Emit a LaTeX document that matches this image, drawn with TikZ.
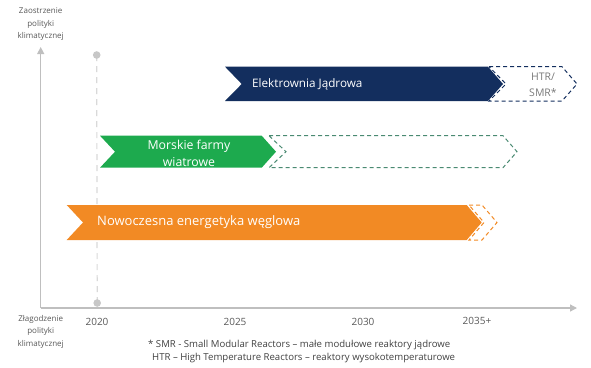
\documentclass[tikz,border=0pt]{standalone}
\usepackage{fontspec}
\setmainfont{Open Sans}
\usetikzlibrary{arrows.meta}
\definecolor{navy}{HTML}{132E5E}
\definecolor{grn}{HTML}{1DAA4E}
\definecolor{grndash}{HTML}{4A8A72}
\definecolor{org}{HTML}{F28A24}
\definecolor{axisgray}{HTML}{BFBFBF}
\definecolor{dashgray}{HTML}{D9D9D9}
\definecolor{txtgray}{HTML}{595959}
\definecolor{notegray}{HTML}{404040}
\tikzset{
  axisline/.style={draw=axisgray, line width=1.3pt, -{Triangle[length=7pt,width=7pt]}},
  bandtext/.style={text=white, font=\fontsize{11.7}{13}\selectfont, align=center, inner sep=0pt},
  axlabel/.style={text=txtgray, font=\fontsize{8}{12.5}\selectfont, align=center, inner sep=0pt},
  yearlabel/.style={text=txtgray, font=\fontsize{10}{11}\selectfont, inner sep=0pt},
  notelabel/.style={text=notegray, font=\fontsize{9.6}{10}\selectfont, inner sep=0pt, anchor=west},
  dashedband/.style={line width=1pt, dash pattern=on 4pt off 3pt},
}
\begin{document}
\begin{tikzpicture}[x=1pt,y=-1pt]
\useasboundingbox (0,0) rectangle (591,367);
% axes
\coordinate (o) at (40.7,308);
\coordinate (ytip) at (40.7,47);
\coordinate (xtip) at (577,308);
\draw[axisline] (o) -- (ytip);
\draw[axisline] (o) -- (xtip);
% 2020 marker
\coordinate (mtop) at (96.7,55);
\coordinate (mbot) at (97.2,303);
\draw[dashgray, line width=1.2pt, dash pattern=on 6pt off 5pt] (mtop) -- (mbot);
\fill[dashgray!80!gray] (mtop) circle (3.8);
\fill[dashgray!80!gray] (mbot) circle (3.8);
% nuclear
\fill[navy] (225,66.7) -- (488,66.7) -- (503,84) -- (488,101) -- (225,101) -- (241.7,84) -- cycle;
\draw[navy, dashedband] (489,66.7) -- (562,66.7) -- (577,84) -- (562,101) -- (489,101) -- (506,84) -- cycle;
\node[bandtext, anchor=west] (nuc) at (252,84) {Elektrownia Jądrowa};
\node[text=txtgray!80, font=\fontsize{10.5}{15.5}\selectfont, align=center, inner sep=0pt] (htr) at (543,85) {HTR/\\SMR*};
% wind
\fill[grn] (100,135.7) -- (261.7,135.7) -- (276,151.7) -- (261.7,167.7) -- (100,167.7) -- (115,151.7) -- cycle;
\draw[grndash, dashedband] (269,135.7) -- (503,135.7) -- (517,151.7) -- (503,167.7) -- (269,167.7) -- (286,151.7) -- cycle;
\node[bandtext, font=\fontsize{12.3}{16.7}\selectfont] (wind) at (189,153.5) {Morskie farmy\\wiatrowe};
% coal
\fill[org] (66.7,205) -- (466.7,205) -- (481.7,222.5) -- (466.7,240) -- (66.7,240) -- (83,222.5) -- cycle;
\draw[org, dashedband] (469,205) -- (482,205) -- (497,222.5) -- (482,240) -- (469,240) -- (484,222.5) -- cycle;
\node[bandtext, font=\fontsize{13}{15}\selectfont, anchor=west] (coal) at (97,222.5) {Nowoczesna energetyka węglowa};
% axis labels
\node[axlabel] (top) at (40.7,24.5) {Zaostrzenie\\polityki\\klimatycznej};
\node[axlabel] (bottom) at (40.7,331.5) {Złagodzenie\\polityki\\klimatycznej};
\node[yearlabel] (y2020) at (97,321.5) {2020};
\node[yearlabel] (y2025) at (235,321.5) {2025};
\node[yearlabel] (y2030) at (363,321.5) {2030};
\node[yearlabel] (y2035) at (477,321) {2035+};
% footnote
\node[notelabel] (n1) at (148,345) {* SMR - Small Modular Reactors – małe modułowe reaktory jądrowe};
\node[notelabel] (n2) at (152,357.5) {HTR – High Temperature Reactors – reaktory wysokotemperaturowe};
\end{tikzpicture}
\end{document}
